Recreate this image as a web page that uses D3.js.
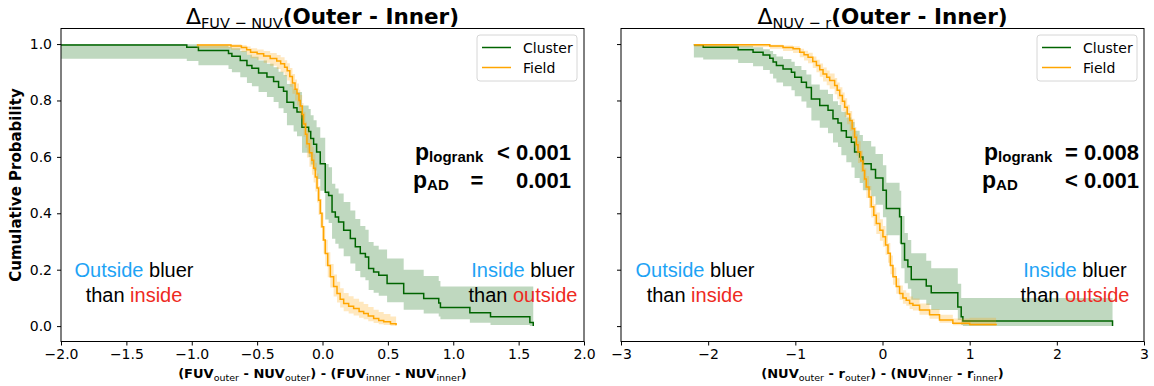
<!DOCTYPE html>
<html>
<head>
<meta charset="utf-8">
<script src="https://cdn.jsdelivr.net/npm/d3@7"></script>
<style>
  body { margin: 0; background: #fff; }
  svg { display: block; }
  .tick text { font-family: "DejaVu Sans", sans-serif; font-size: 14px; fill: #000; }
  .tick line { stroke: #000; }
</style>
</head>
<body>
<div id="chart"></div>
<script>
"use strict";

// rows: [x, survival, lower, upper]
const leftCluster = [
  [-2.2, 0.997, 0.948, 1.0], [-1.038, 0.989, 0.94, 0.999], [-0.949, 0.977, 0.925, 0.995],
  [-0.719, 0.967, 0.912, 0.99], [-0.693, 0.957, 0.9, 0.985], [-0.629, 0.942, 0.882, 0.975],
  [-0.578, 0.924, 0.862, 0.962], [-0.54, 0.914, 0.85, 0.955], [-0.489, 0.897, 0.83, 0.942],
  [-0.425, 0.883, 0.812, 0.93], [-0.374, 0.867, 0.795, 0.918], [-0.336, 0.847, 0.772, 0.902],
  [-0.298, 0.833, 0.756, 0.89], [-0.272, 0.794, 0.712, 0.858], [-0.221, 0.774, 0.69, 0.842],
  [-0.195, 0.759, 0.673, 0.83], [-0.157, 0.705, 0.615, 0.782], [-0.106, 0.69, 0.6, 0.77],
  [-0.09, 0.665, 0.573, 0.748], [-0.068, 0.645, 0.552, 0.73], [-0.045, 0.617, 0.522, 0.705],
  [-0.017, 0.576, 0.48, 0.668], [0.021, 0.475, 0.378, 0.575], [0.047, 0.463, 0.366, 0.563],
  [0.073, 0.405, 0.31, 0.505], [0.098, 0.387, 0.292, 0.488], [0.123, 0.369, 0.275, 0.47],
  [0.162, 0.34, 0.248, 0.44], [0.213, 0.311, 0.222, 0.41], [0.251, 0.281, 0.195, 0.38],
  [0.289, 0.257, 0.173, 0.355], [0.328, 0.245, 0.163, 0.342], [0.353, 0.204, 0.128, 0.298],
  [0.391, 0.192, 0.118, 0.285], [0.43, 0.18, 0.108, 0.272], [0.494, 0.151, 0.085, 0.24],
  [0.621, 0.116, 0.058, 0.2], [0.774, 0.098, 0.045, 0.178], [0.889, 0.082, 0.034, 0.16],
  [0.902, 0.066, 0.024, 0.14], [1.127, 0.047, 0.012, 0.14], [1.285, 0.033, 0.004, 0.14],
  [1.586, 0.013, 0.0, 0.14], [1.612, 0.0, 0.0, 0.14],
];

const leftField = [
  [-0.961, 0.997, 0.985, 1.0], [-0.7, 0.993, 0.98, 0.999], [-0.62, 0.988, 0.972, 0.996],
  [-0.58, 0.98, 0.962, 0.991], [-0.55, 0.971, 0.95, 0.985], [-0.5, 0.966, 0.944, 0.981],
  [-0.45, 0.958, 0.934, 0.975], [-0.4, 0.949, 0.923, 0.968], [-0.35, 0.94, 0.912, 0.961],
  [-0.32, 0.93, 0.9, 0.953], [-0.29, 0.918, 0.886, 0.943], [-0.27, 0.905, 0.871, 0.932],
  [-0.25, 0.885, 0.849, 0.915], [-0.23, 0.862, 0.824, 0.894], [-0.21, 0.84, 0.8, 0.874],
  [-0.195, 0.824, 0.783, 0.86], [-0.18, 0.8, 0.758, 0.838], [-0.17, 0.78, 0.736, 0.819],
  [-0.155, 0.75, 0.705, 0.791], [-0.145, 0.717, 0.671, 0.76], [-0.13, 0.68, 0.632, 0.725],
  [-0.119, 0.647, 0.598, 0.693], [-0.1, 0.615, 0.565, 0.662], [-0.081, 0.588, 0.537, 0.636],
  [-0.068, 0.56, 0.509, 0.609], [-0.055, 0.529, 0.477, 0.579], [-0.042, 0.49, 0.438, 0.541],
  [-0.03, 0.446, 0.394, 0.497], [-0.017, 0.4, 0.349, 0.451], [-0.004, 0.352, 0.302, 0.403],
  [0.008, 0.305, 0.257, 0.355], [0.021, 0.257, 0.212, 0.306], [0.04, 0.215, 0.173, 0.262],
  [0.06, 0.175, 0.137, 0.22], [0.085, 0.14, 0.105, 0.183], [0.111, 0.116, 0.084, 0.157],
  [0.135, 0.095, 0.066, 0.134], [0.162, 0.08, 0.053, 0.117], [0.2, 0.07, 0.045, 0.106],
  [0.238, 0.062, 0.038, 0.097], [0.28, 0.052, 0.03, 0.086], [0.315, 0.045, 0.024, 0.078],
  [0.35, 0.036, 0.017, 0.068], [0.391, 0.027, 0.011, 0.058], [0.43, 0.02, 0.007, 0.05],
  [0.468, 0.015, 0.004, 0.043], [0.52, 0.008, 0.001, 0.034], [0.563, 0.003, 0.0, 0.03],
];

const rightCluster = [
  [-2.164, 0.998, 0.952, 1.0], [-2.057, 0.989, 0.945, 0.998], [-1.656, 0.98, 0.933, 0.994],
  [-1.485, 0.971, 0.921, 0.989], [-1.37, 0.961, 0.908, 0.982], [-1.293, 0.95, 0.895, 0.975],
  [-1.255, 0.936, 0.878, 0.965], [-1.217, 0.924, 0.864, 0.956], [-1.141, 0.912, 0.85, 0.947],
  [-1.045, 0.9, 0.836, 0.937], [-1.007, 0.882, 0.815, 0.922], [-0.93, 0.865, 0.796, 0.908],
  [-0.873, 0.846, 0.774, 0.892], [-0.816, 0.805, 0.729, 0.857], [-0.72, 0.782, 0.703, 0.838],
  [-0.625, 0.765, 0.684, 0.823], [-0.568, 0.735, 0.651, 0.797], [-0.511, 0.72, 0.635, 0.784],
  [-0.472, 0.693, 0.606, 0.76], [-0.415, 0.67, 0.581, 0.74], [-0.357, 0.652, 0.562, 0.724],
  [-0.32, 0.617, 0.525, 0.693], [-0.262, 0.6, 0.507, 0.678], [-0.225, 0.576, 0.482, 0.656],
  [-0.13, 0.555, 0.46, 0.637], [-0.08, 0.525, 0.43, 0.61], [0.005, 0.482, 0.386, 0.57],
  [0.044, 0.417, 0.322, 0.508], [0.196, 0.388, 0.294, 0.48], [0.215, 0.293, 0.205, 0.39],
  [0.253, 0.234, 0.152, 0.33], [0.291, 0.21, 0.132, 0.305], [0.33, 0.165, 0.093, 0.258],
  [0.502, 0.142, 0.075, 0.232], [0.559, 0.118, 0.057, 0.205], [0.864, 0.068, 0.022, 0.15],
  [0.903, 0.033, 0.004, 0.1], [0.922, 0.018, 0.0, 0.1], [2.639, 0.0, 0.0, 0.1],
];

const rightField = [
  [-2.164, 0.998, 0.99, 1.0], [-1.293, 0.993, 0.983, 0.998], [-1.141, 0.988, 0.975, 0.995],
  [-1.026, 0.983, 0.968, 0.992], [-0.949, 0.971, 0.953, 0.983], [-0.9, 0.962, 0.942, 0.976],
  [-0.854, 0.953, 0.932, 0.969], [-0.8, 0.938, 0.915, 0.956], [-0.758, 0.924, 0.9, 0.944],
  [-0.72, 0.909, 0.884, 0.931], [-0.682, 0.894, 0.867, 0.917], [-0.64, 0.882, 0.854, 0.906],
  [-0.606, 0.871, 0.842, 0.896], [-0.549, 0.853, 0.822, 0.88], [-0.52, 0.836, 0.804, 0.864],
  [-0.491, 0.818, 0.785, 0.847], [-0.46, 0.797, 0.763, 0.828], [-0.434, 0.776, 0.741, 0.808],
  [-0.405, 0.752, 0.716, 0.785], [-0.376, 0.729, 0.692, 0.763], [-0.348, 0.7, 0.662, 0.735],
  [-0.32, 0.67, 0.632, 0.706], [-0.3, 0.643, 0.604, 0.68], [-0.281, 0.617, 0.578, 0.655],
  [-0.25, 0.585, 0.546, 0.623], [-0.225, 0.552, 0.513, 0.591], [-0.205, 0.522, 0.483, 0.561],
  [-0.186, 0.493, 0.454, 0.532], [-0.155, 0.458, 0.419, 0.497], [-0.129, 0.423, 0.385, 0.462],
  [-0.1, 0.393, 0.355, 0.432], [-0.071, 0.364, 0.327, 0.403], [-0.03, 0.34, 0.303, 0.379],
  [0.005, 0.317, 0.281, 0.355], [0.035, 0.288, 0.253, 0.325], [0.063, 0.258, 0.225, 0.295],
  [0.09, 0.215, 0.184, 0.25], [0.12, 0.175, 0.147, 0.208], [0.158, 0.14, 0.115, 0.17],
  [0.196, 0.116, 0.093, 0.144], [0.234, 0.1, 0.079, 0.127], [0.272, 0.092, 0.072, 0.118],
  [0.311, 0.08, 0.061, 0.105], [0.349, 0.074, 0.055, 0.098], [0.425, 0.057, 0.04, 0.08],
  [0.54, 0.04, 0.026, 0.061], [0.654, 0.022, 0.012, 0.04], [0.807, 0.01, 0.003, 0.027],
  [1.0, 0.006, 0.001, 0.03], [1.303, 0.003, 0.0, 0.03],
];

const leftTicks = [-2.0, -1.5, -1.0, -0.5, 0.0, 0.5, 1.0, 1.5, 2.0];
const rightTicks = [-3, -2, -1, 0, 1, 2, 3];
const yTicks = [0.0, 0.2, 0.4, 0.6, 0.8, 1.0];
const seriesNames = ["Cluster", "Field"];
const seriesColors = ["darkgreen", "orange"];

const W = 1154;
const H = 386;
const plotTop = 28.5;
const plotBottom = 341.5;
const mathFont = "'DejaVu Sans', sans-serif";
const helv = "'Liberation Sans', Arial, sans-serif";
const blue = "#1ea3f5";
const red = "#ee2a22";

const svg = d3.select("#chart").append("svg").attr("width", W).attr("height", H);

const yScale = d3.scaleLinear().domain([-0.0546, 1.0552]).range([plotBottom, plotTop]);

// add a text made of pieces: [string, size, weight, dy, fill]
function richText(g, x, y, anchor, family, parts) {
  const t = g.append("text")
    .attr("x", x).attr("y", y)
    .attr("text-anchor", anchor)
    .attr("font-family", family);
  parts.forEach((p) => {
    t.append("tspan")
      .attr("font-size", p[1])
      .attr("font-weight", p[2])
      .attr("dy", p[3] || 0)
      .attr("fill", p[4] || "#000")
      .text(p[0]);
  });
  return t;
}

function drawPanel(cfg) {
  const x = d3.scaleLinear().domain(cfg.domain).range([cfg.left, cfg.right]);
  const g = svg.append("g");

  g.append("clipPath").attr("id", cfg.id + "-clip")
    .append("rect")
    .attr("x", cfg.left).attr("y", plotTop)
    .attr("width", cfg.right - cfg.left).attr("height", plotBottom - plotTop);

  const plot = g.append("g").attr("clip-path", `url(#${cfg.id}-clip)`);

  const area = d3.area().curve(d3.curveStepAfter)
    .x((d) => x(d[0])).y0((d) => yScale(d[2])).y1((d) => yScale(d[3]));
  const line = d3.line().curve(d3.curveStepAfter)
    .x((d) => x(d[0])).y((d) => yScale(d[1]));

  cfg.series.forEach((s, i) => {
    plot.append("path").attr("d", area(s))
      .attr("fill", seriesColors[i]).attr("fill-opacity", 0.25);
    plot.append("path").attr("d", line(s))
      .attr("fill", "none").attr("stroke", seriesColors[i]).attr("stroke-width", 1.5);
  });

  // axes
  g.append("g")
    .attr("transform", `translate(0,${plotBottom})`)
    .call(d3.axisBottom(x).tickValues(cfg.ticks).tickFormat(cfg.fmt)
      .tickSize(4).tickPadding(4).tickSizeOuter(0))
    .call((a) => a.select(".domain").remove());

  g.append("g")
    .attr("transform", `translate(${cfg.left},0)`)
    .call(d3.axisLeft(yScale).tickValues(yTicks)
      .tickFormat(cfg.yLabels ? d3.format(".1f") : "")
      .tickSize(4).tickPadding(5).tickSizeOuter(0))
    .call((a) => a.select(".domain").remove());

  g.append("rect")
    .attr("x", cfg.left).attr("y", plotTop)
    .attr("width", cfg.right - cfg.left).attr("height", plotBottom - plotTop)
    .attr("fill", "none").attr("stroke", "#000").attr("stroke-width", 1);

  // legend
  const lg = g.append("g").attr("transform", `translate(${cfg.right - 107},35)`);
  lg.append("rect").attr("width", 100).attr("height", 46).attr("rx", 3)
    .attr("fill", "#fff").attr("fill-opacity", 0.8)
    .attr("stroke", "#d6d6d6").attr("stroke-width", 1);
  seriesNames.forEach((n, i) => {
    lg.append("line")
      .attr("x1", 5).attr("x2", 34)
      .attr("y1", 12.5 + i * 20).attr("y2", 12.5 + i * 20)
      .attr("stroke", seriesColors[i]).attr("stroke-width", 1.5);
    lg.append("text")
      .attr("x", 46).attr("y", 17.5 + i * 20)
      .attr("font-family", mathFont).attr("font-size", 14)
      .text(n);
  });

  const cx = (cfg.left + cfg.right) / 2;

  // title
  richText(g, cx, 24, "middle", mathFont, [
    ["Δ", 22, "normal"],
    [cfg.titleSub, 14.5, "normal", 4],
    ["(Outer - Inner)", 21.5, "bold", -4],
  ]);

  // x label
  const a = cfg.xa;
  const b = cfg.xb;
  richText(g, cx, 378, "middle", mathFont, [
    ["(" + a, 13, "bold"], ["outer", 9.5, "normal", 2.5],
    [" - " + b, 13, "bold", -2.5], ["outer", 9.5, "normal", 2.5],
    [") - (" + a, 13, "bold", -2.5], ["inner", 9.5, "normal", 2.5],
    [" - " + b, 13, "bold", -2.5], ["inner", 9.5, "normal", 2.5],
    [")", 13, "bold", -2.5],
  ]);

  // p values
  const pv = cfg.pvals;
  richText(g, cfg.pLeft + 1, 160, "start", helv, [
    ["p", 23, "bold"], ["logrank", 15, "bold", 1.5],
  ]);
  richText(g, cfg.pRight, 160, "end", helv, [[pv[0], 22, "bold"]]);
  richText(g, cfg.pLeft - 1, 188, "start", helv, [
    ["p", 23, "bold"], ["AD", 15, "bold", 1.5],
  ]);
  if (pv[2]) {
    richText(g, cfg.pLeft + 63, 188, "middle", helv, [[pv[2], 22, "bold"]]);
  }
  richText(g, cfg.pRight, 188, "end", helv, [[pv[1], 22, "bold"]]);

  // side notes
  richText(g, cfg.noteL, 276.5, "middle", helv, [
    ["Outside", 20, "normal", 0, blue], [" bluer", 20, "normal"],
  ]);
  richText(g, cfg.noteL, 301.5, "middle", helv, [
    ["than ", 20, "normal"], ["inside", 20, "normal", 0, red],
  ]);
  richText(g, cfg.noteR, 276.5, "middle", helv, [
    ["Inside", 20, "normal", 0, blue], [" bluer", 20, "normal"],
  ]);
  richText(g, cfg.noteR, 301.5, "middle", helv, [
    ["than ", 20, "normal"], ["outside", 20, "normal", 0, red],
  ]);
}

drawPanel({
  id: "left",
  left: 61, right: 584,
  domain: [-2, 2],
  ticks: leftTicks,
  fmt: d3.format(".1f"),
  yLabels: true,
  series: [leftCluster, leftField],
  titleSub: "FUV − NUV",
  xa: "FUV", xb: "NUV",
  pvals: ["< 0.001", "0.001", "="],
  pLeft: 414, pRight: 571,
  noteL: 134, noteR: 523,
});

drawPanel({
  id: "right",
  left: 621, right: 1144,
  domain: [-3, 3],
  ticks: rightTicks,
  fmt: d3.format("d"),
  yLabels: false,
  series: [rightCluster, rightField],
  titleSub: "NUV − r",
  xa: "NUV", xb: "r",
  pvals: ["= 0.008", "< 0.001"],
  pLeft: 983, pRight: 1139,
  noteL: 695, noteR: 1075,
});

// y label
svg.append("text")
  .attr("transform", "translate(21,185) rotate(-90)")
  .attr("text-anchor", "middle")
  .attr("font-family", mathFont)
  .attr("font-size", 15)
  .attr("font-weight", "bold")
  .text("Cumulative Probability");
</script>
</body>
</html>
